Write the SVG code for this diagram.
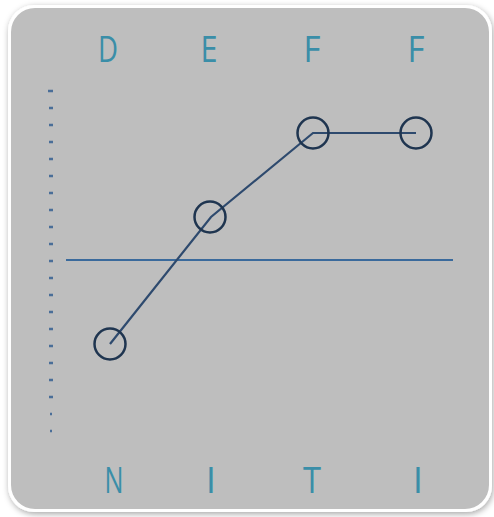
<svg xmlns="http://www.w3.org/2000/svg" width="494" height="517" viewBox="0 0 494 517">
<defs>
<filter id="sh" x="-5%" y="-5%" width="110%" height="110%"><feDropShadow dx="1" dy="2" stdDeviation="3" flood-color="#000" flood-opacity="0.35"/></filter>
<filter id="glow" x="-5%" y="-200%" width="110%" height="500%"><feGaussianBlur stdDeviation="2"/></filter>
</defs>
<style>
.lab{font-family:"Open Sans","DejaVu Sans",sans-serif;font-weight:400;font-size:37px;fill:#3a8ea8;text-anchor:middle}
.tick{stroke:#4a6e98;stroke-width:2.5}
.node{fill:none;stroke:#1f3550;stroke-width:2.5}
.conn{fill:none;stroke:#2e4a6e;stroke-width:2.2}
</style>
<rect x="8" y="5" width="484" height="507" rx="26" fill="#ffffff" filter="url(#sh)"/>
<rect x="11" y="8" width="478" height="501" rx="24" fill="#bebebe"/>
<g id="top-labels">
<text class="lab" x="108" y="62" textLength="20" lengthAdjust="spacingAndGlyphs">D</text>
<text class="lab" x="209" y="62" textLength="17" lengthAdjust="spacingAndGlyphs">E</text>
<text class="lab" x="312" y="62" textLength="17" lengthAdjust="spacingAndGlyphs">F</text>
<text class="lab" x="416" y="62" textLength="17" lengthAdjust="spacingAndGlyphs">F</text>
</g>
<g id="bottom-labels">
<text class="lab" x="114" y="493" textLength="19" lengthAdjust="spacingAndGlyphs">N</text>
<text class="lab" x="211" y="493">I</text>
<text class="lab" x="312" y="493" textLength="18" lengthAdjust="spacingAndGlyphs">T</text>
<text class="lab" x="418" y="493">I</text>
</g>
<g id="axis-ticks">
<path class="tick" d="M48,91h5M49,108h4M49,125h4M49,142h4M49,159h4M49,176h4M49,193h4M49,210h4M49,227h4M49,244h4M49,261h4M49,278h4M49,295h4M49,312h4M49,329h4M49,346h4M49,363h4M49,380h4M49,397h4M50,414h2M50,431h2"/>
</g>
<g id="baseline">
<line x1="66" y1="261" x2="453" y2="261" stroke="#ffffff" stroke-width="6" opacity="0.5" filter="url(#glow)"/>
<line x1="66" y1="260" x2="453" y2="260" stroke="#3a6a9c" stroke-width="2"/>
</g>
<g id="connectors">
<polyline class="conn" points="110,344 211,217 313,133 416,133"/>
</g>
<g id="n1"><circle class="node" cx="110" cy="344" r="15.5"/></g>
<g id="n2"><circle class="node" cx="210" cy="217" r="15.5"/></g>
<g id="n3"><circle class="node" cx="313" cy="133" r="15.5"/></g>
<g id="n4"><circle class="node" cx="416" cy="133" r="15.5"/></g>
</svg>
